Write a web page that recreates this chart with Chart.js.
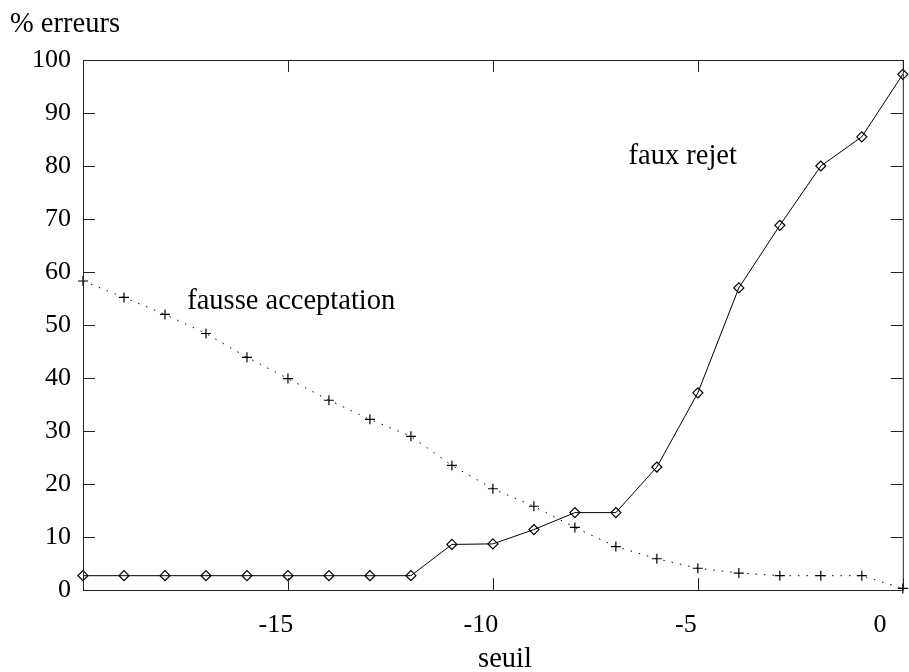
<!DOCTYPE html>
<html>
<head>
<meta charset="utf-8">
<script src="https://cdn.jsdelivr.net/npm/chart.js@4.4.1/dist/chart.umd.min.js"></script>
<style>
  html, body { margin: 0; padding: 0; background: #fff; }
  #wrap { width: 909px; height: 672px; }
</style>
</head>
<body>
<div id="wrap"><canvas id="chart" width="909" height="672"></canvas></div>
<script>
// seuil (x) values
const seuils = [-20, -19, -18, -17, -16, -15, -14, -13, -12, -11, -10, -9, -8, -7, -6, -5, -4, -3, -2, -1, 0];
// % erreurs
const fauxRejet = [2.7, 2.7, 2.7, 2.7, 2.7, 2.7, 2.7, 2.7, 2.7, 8.6, 8.7, 11.4, 14.6, 14.6, 23.2, 37.2, 57.0, 68.8, 80.0, 85.5, 97.3];
const fausseAcceptation = [58.3, 55.2, 52.0, 48.4, 43.9, 39.9, 35.8, 32.2, 29.0, 23.5, 19.1, 15.8, 11.8, 8.2, 5.9, 4.1, 3.2, 2.7, 2.7, 2.7, 0.3];
const xTicks = [-15, -10, -5, 0];
const yTicks = [0, 10, 20, 30, 40, 50, 60, 70, 80, 90, 100];

const FONT = '"Liberation Serif", "Times New Roman", serif';
const TICK_SIZE = 26;
const TEXT_SIZE = 28.5;

function toPoints(ys) {
    return seuils.map((x, i) => ({ x: x, y: ys[i] }));
}

// gnuplot-ish frame, inward ticks, labels
const framePlugin = {
    id: 'frame',
    afterDraw(chart) {
        const ctx = chart.ctx;
        const a = chart.chartArea;
        const xs = chart.scales.x;
        const ys = chart.scales.y;
        const tick = 12;
        ctx.save();
        ctx.strokeStyle = '#222';
        ctx.lineWidth = 1;
        ctx.beginPath();
        ctx.rect(a.left + 0.5, a.top + 0.5, a.right - a.left, a.bottom - a.top);
        yTicks.forEach((v) => {
            const py = Math.round(ys.getPixelForValue(v)) + 0.5;
            ctx.moveTo(a.left, py); ctx.lineTo(a.left + tick, py);
            ctx.moveTo(a.right, py); ctx.lineTo(a.right - tick, py);
        });
        xTicks.forEach((v) => {
            const px = Math.round(xs.getPixelForValue(v)) + 0.5;
            ctx.moveTo(px, a.bottom); ctx.lineTo(px, a.bottom - tick);
            ctx.moveTo(px, a.top); ctx.lineTo(px, a.top + tick);
        });
        ctx.stroke();

        ctx.fillStyle = '#000';
        ctx.font = TICK_SIZE + 'px ' + FONT;
        ctx.textBaseline = 'middle';
        ctx.textAlign = 'center';
        xTicks.forEach((v) => {
            const px = Math.min(xs.getPixelForValue(v) - 12, chart.width - 29);
            ctx.fillText(String(v), px, a.bottom + 35);
        });

        ctx.font = TEXT_SIZE + 'px ' + FONT;
        ctx.fillText('seuil', 505, a.bottom + 70);

        ctx.textAlign = 'left';
        ctx.fillText('% erreurs', 10, 25);

        ctx.textAlign = 'center';
        ctx.fillText('fausse acceptation', xs.getPixelForValue(-14.92), ys.getPixelForValue(54.5));
        ctx.fillText('faux rejet', xs.getPixelForValue(-5.37), ys.getPixelForValue(81.7));
        ctx.restore();
    }
};

const ctx = document.getElementById('chart').getContext('2d');
const chart = new Chart(ctx, {
    type: 'scatter',
    data: {
        datasets: [
            {
                label: 'fausse acceptation',
                data: toPoints(fausseAcceptation),
                showLine: true,
                borderColor: '#000',
                borderWidth: 1,
                borderDash: [1.5, 7],
                pointStyle: 'cross',
                pointRadius: 5,
                pointBorderColor: '#000',
                pointBorderWidth: 1.2,
                pointBackgroundColor: 'transparent',
                clip: false
            },
            {
                label: 'faux rejet',
                data: toPoints(fauxRejet),
                showLine: true,
                borderColor: '#000',
                borderWidth: 1,
                pointStyle: 'rectRot',
                pointRadius: 5,
                pointBorderColor: '#000',
                pointBorderWidth: 1.2,
                pointBackgroundColor: 'transparent',
                clip: false
            }
        ]
    },
    options: {
        responsive: false,
        animation: false,
        events: [],
        layout: { padding: { top: 60, bottom: 82, left: 0, right: 0 } },
        plugins: {
            legend: { display: false },
            tooltip: { enabled: false }
        },
        scales: {
            x: {
                type: 'linear',
                display: false,
                min: -20,
                max: 0
            },
            y: {
                type: 'linear',
                min: 0,
                max: 100,
                grid: { display: false, drawTicks: false },
                border: { display: false },
                ticks: {
                    stepSize: 10,
                    padding: 12,
                    color: '#000',
                    font: { family: FONT, size: TICK_SIZE }
                },
                afterFit: (scale) => { scale.width = 83; }
            }
        }
    },
    plugins: [framePlugin]
});
</script>
</body>
</html>
